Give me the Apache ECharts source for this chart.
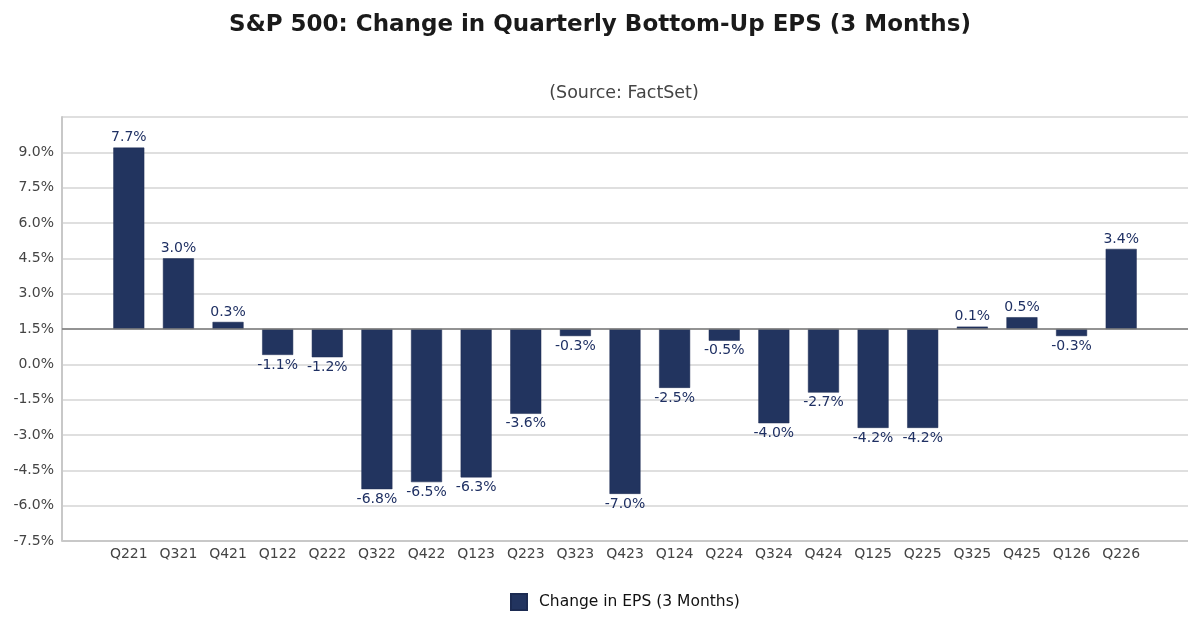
<!DOCTYPE html>
<html>
<head>
<meta charset="utf-8">
<title>S&amp;P 500 EPS change</title>
<script src="https://cdn.jsdelivr.net/npm/echarts@6/dist/echarts.min.js"></script>
<style>
  html, body { margin: 0; padding: 0; background: #fff; }
  #main { width: 1200px; height: 629px; }
</style>
</head>
<body>
<div id="main"></div>
<script>
// quarters
var quarters = ['Q221','Q321','Q421','Q122','Q222','Q322','Q422','Q123','Q223','Q323',
                'Q423','Q124','Q224','Q324','Q424','Q125','Q225','Q325','Q425','Q126','Q226'];
// change in EPS (3 months), %
var epsChange = [7.7, 3.0, 0.3, -1.1, -1.2, -6.8, -6.5, -6.3, -3.6, -0.3,
                 -7.0, -2.5, -0.5, -4.0, -2.7, -4.2, -4.2, 0.1, 0.5, -0.3, 3.4];
// the tick labels sit 1.5 points above the bar baseline in the original
var labelShift = 1.5;

var font = 'DejaVu Sans';
var myChart = echarts.init(document.getElementById('main'));

// grid 0 : frame + gridlines (full width), grid 1 : bars (inset like the original)
myChart.setOption({
    animation: false,
    textStyle: { fontFamily: font },
    title: [
        {
            text: 'S&P 500: Change in Quarterly Bottom-Up EPS (3 Months)',
            left: 'center',
            top: 9,
            textStyle: { fontSize: 23, fontWeight: 'bold', color: '#1a1a1a', fontFamily: font }
        },
        {
            text: '(Source: FactSet)',
            left: 619,
            textAlign: 'center',
            top: 79,
            textStyle: { fontSize: 17.5, fontWeight: 'normal', color: '#444', fontFamily: font }
        }
    ],
    legend: {
        bottom: 13,
        left: 505,
        icon: 'rect',
        itemWidth: 16,
        itemHeight: 16,
        itemGap: 12,
        textStyle: { fontSize: 15.5, color: '#111', fontFamily: font, padding: [0, 0, 0, 7] },
        data: ['Change in EPS (3 Months)']
    },
    grid: [
        { left: 62, right: 12, top: 117, bottom: 88 },
        { left: 104, right: 54, top: 117, bottom: 88 }
    ],
    xAxis: [
        {
            gridIndex: 0,
            type: 'category',
            data: quarters,
            show: false
        },
        {
            gridIndex: 1,
            type: 'category',
            data: quarters,
            axisLine: { show: false },
            axisTick: { show: false },
            axisLabel: { fontSize: 14, color: '#444', margin: 6, fontFamily: font }
        }
    ],
    yAxis: [
        {
            gridIndex: 0,
            type: 'value',
            min: -9,
            max: 9,
            interval: 1.5,
            axisLine: { show: true, lineStyle: { color: '#c8c8c8', width: 2 } },
            axisTick: { show: false },
            splitLine: { lineStyle: { color: '#d4d4d4', width: 1.5 } },
            axisLabel: {
                fontSize: 14,
                color: '#444',
                margin: 8,
                fontFamily: font,
                formatter: function (v) {
                    if (v >= 9) return '';
                    return (v + labelShift).toFixed(1) + '%';
                }
            }
        },
        {
            gridIndex: 1,
            type: 'value',
            min: -9,
            max: 9,
            interval: 1.5,
            show: false,
            splitLine: { show: false }
        }
    ],
    series: [
        {
            name: 'Change in EPS (3 Months)',
            type: 'bar',
            xAxisIndex: 1,
            yAxisIndex: 1,
            data: epsChange,
            barWidth: 31,
            itemStyle: { color: '#22345f', borderColor: '#1c2b52', borderWidth: 0.5 },
            label: {
                show: true,
                fontSize: 14,
                color: '#1f3063',
                fontFamily: font,
                distance: 3,
                position: 'outside',
                formatter: function (p) { return p.value.toFixed(1) + '%'; }
            }
        },
        {
            // zero line and bottom border across the full frame
            type: 'line',
            xAxisIndex: 0,
            yAxisIndex: 0,
            data: [],
            markLine: {
                silent: true,
                symbol: 'none',
                label: { show: false },
                data: [
                    { yAxis: 0, lineStyle: { color: '#7a7a7a', type: 'solid', width: 1.5 } },
                    { yAxis: -9, lineStyle: { color: '#c8c8c8', type: 'solid', width: 2 } }
                ]
            }
        }
    ]
});
</script>
</body>
</html>
